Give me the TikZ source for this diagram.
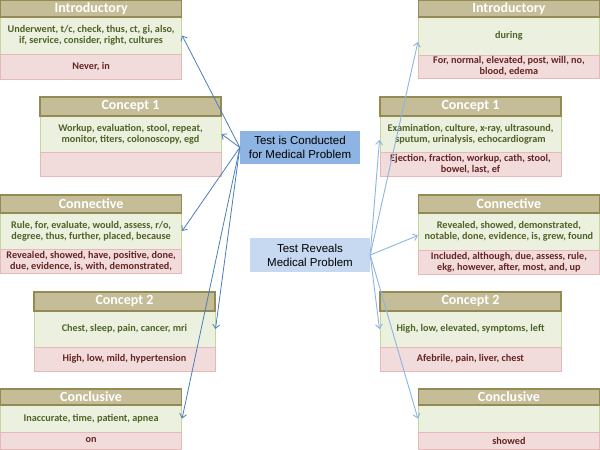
\documentclass[tikz,border=0pt]{standalone}
\usepackage{fontspec}
\setmainfont{Carlito}
\newfontfamily\arialf{Liberation Sans}
\usetikzlibrary{arrows.meta,calc}
\definecolor{hdrfill}{HTML}{C4BD97}
\definecolor{hdrdraw}{HTML}{948A54}
\definecolor{grnfill}{HTML}{EBF1DE}
\definecolor{grndraw}{HTML}{C3D69B}
\definecolor{grntext}{HTML}{4F6228}
\definecolor{pnkfill}{HTML}{F2DCDB}
\definecolor{pnkdraw}{HTML}{E6B9B8}
\definecolor{pnktext}{HTML}{632523}
\definecolor{tcfill}{HTML}{8DB4E2}
\definecolor{trfill}{HTML}{C6D9F1}
\definecolor{larrc}{HTML}{4A7EBB}
\definecolor{rarrc}{HTML}{8DB4E2}
\tikzset{
  hdr/.style={draw=hdrdraw, line width=1.2pt, fill=hdrfill, text=white, font=\bfseries\fontsize{14}{16}\selectfont, inner sep=0pt},
  grn/.style={draw=grndraw, line width=1pt, fill=grnfill, text=grntext, font=\bfseries\fontsize{10.2}{11}\selectfont, align=center, inner sep=0pt},
  pnk/.style={draw=pnkdraw, line width=1pt, fill=pnkfill, text=pnktext, font=\bfseries\fontsize{10.2}{11}\selectfont, align=center, inner sep=0pt},
  midbox/.style={font=\arialf\fontsize{11.5}{14}\selectfont, align=center, inner sep=0pt, minimum width=120pt},
  larr/.style={draw=larrc, line width=0.8pt, -{Straight Barb[length=4pt,width=7pt]}},
  rarr/.style={draw=rarrc, line width=0.9pt, -{Straight Barb[length=4pt,width=7pt]}},
}
% #1 name, #2 x0, #3 y0, #4 y1, #5 y2, #6 y3, #7 title, #8 green text, #9 pink text
\newcommand\catbox[9]{%
  \pgfmathsetmacro\bx{#2+90.5}%
  \pgfmathsetmacro\hh{#4-#3}\pgfmathsetmacro\hy{(#3+#4)/2}%
  \pgfmathsetmacro\gh{#5-#4}\pgfmathsetmacro\gy{(#4+#5)/2}%
  \pgfmathsetmacro\ph{#6-#5}\pgfmathsetmacro\py{(#5+#6)/2}%
  \node[grn, minimum width=181pt, minimum height=\gh pt] (#1g) at (\bx,\gy) {#8};
  \node[pnk, minimum width=181pt, minimum height=\ph pt] (#1p) at (\bx,\py) {#9};
  \node[hdr, minimum width=181pt, minimum height=\hh pt] (#1h) at (\bx,\hy) {#7};
}
\begin{document}
\begin{tikzpicture}[x=1pt,y=-1pt]
\useasboundingbox[fill=white] (0,0) rectangle (600,450);
% left column
\catbox{li}{0.6}{0.6}{17}{54}{79}{Introductory}{Underwent, t/c, check, thus, ct, gi, also,\\ if, service, consider, right, cultures}{Never, in}
\catbox{lca}{40}{97}{116}{152}{176}{Concept 1}{Workup, evaluation, stool, repeat,\\ monitor, titers, colonoscopy, egd}{}
\catbox{lcn}{0.6}{195}{213}{249}{273}{Connective}{Rule, for, evaluate, would, assess, r/o,\\ degree, thus, further, placed, because}{Revealed, showed, have, positive, done,\\ due, evidence, is, with, demonstrated,}
\catbox{lcb}{34}{292}{311}{347}{371}{Concept 2}{Chest, sleep, pain, cancer, mri}{High, low, mild, hypertension}
\catbox{lcl}{0.6}{389}{405}{432}{449}{Conclusive}{Inaccurate, time, patient, apnea}{on}
% right column
\catbox{ri}{418.4}{0.6}{17}{55}{78}{Introductory}{during}{For, normal, elevated, post, will, no,\\ blood, edema}
\catbox{rca}{380}{97}{116}{152}{176}{Concept 1}{Examination, culture, x-ray, ultrasound,\\ sputum, urinalysis, echocardiogram}{Ejection, fraction, workup, cath, stool,\\ bowel, last, ef}
\catbox{rcn}{418.4}{195}{213}{250}{274}{Connective}{Revealed, showed, demonstrated,\\ notable, done, evidence, is, grew, found}{Included, although, due, assess, rule,\\ ekg, however, after, most, and, up}
\catbox{rcb}{380}{292}{311}{347}{371}{Concept 2}{High, low, elevated, symptoms, left}{Afebrile, pain, liver, chest}
\catbox{rcl}{418.4}{389}{405}{432}{449}{Conclusive}{}{showed}
% center boxes
\node[midbox, fill=tcfill, minimum height=33pt] (tc) at (300,147.5) {Test is Conducted\\for Medical Problem};
\node[midbox, fill=trfill, minimum height=34pt] (tr) at (310,255) {Test Reveals\\Medical Problem};
% left arrows
\draw[larr] (tc.west) -- (lig.east);
\draw[larr] (tc.west) -- (lcag.east);
\draw[larr] (tc.west) -- (lcng.east);
\draw[larr] (tc.west) -- (lcbg.east);
\draw[larr] (tc.west) -- (lclg.east);
% right arrows
\draw[rarr] (tr.east) -- ($(rig.west)+(0,6)$);
\draw[rarr] (tr.east) -- ($(rcag.west)+(0,6)$);
\draw[rarr] (tr.east) -- ($(rcng.west)+(0,4)$);
\draw[rarr] (tr.east) -- (rcbg.west);
\draw[rarr] (tr.east) -- (rclg.west);
\end{tikzpicture}
\end{document}
